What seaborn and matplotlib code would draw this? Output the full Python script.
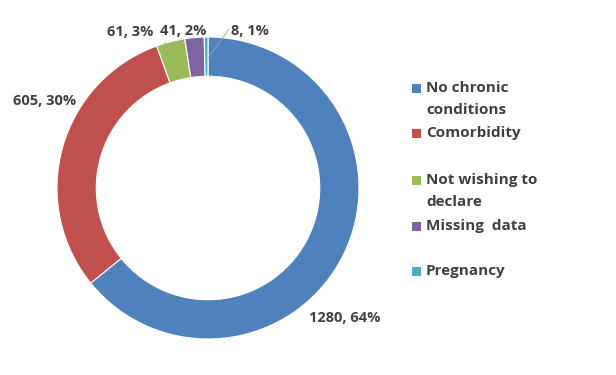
import matplotlib.pyplot as plt
import seaborn as sns
from matplotlib.patches import Rectangle

categories = ["No chronic\nconditions", "Comorbidity", "Not wishing to\ndeclare",
              "Missing  data", "Pregnancy"]
counts = [1280, 605, 61, 41, 8]
percents = [64, 30, 3, 2, 1]
colors = ["#4F81BD", "#C0504D", "#9BBB59", "#8064A2", "#4BACC6"]

sns.set_theme(style="white")
plt.rcParams["font.family"] = ["Open Sans", "DejaVu Sans"]
text_color = "#404040"

fig = plt.figure(figsize=(6.16, 3.75), dpi=100)
ax = fig.add_axes([208 / 616 - 151 / 616, 1 - (188 + 151) / 375, 302 / 616, 302 / 375])

wedges, _ = ax.pie(counts, colors=sns.color_palette(colors), startangle=90,
                   counterclock=False, radius=1.0,
                   wedgeprops=dict(width=0.26, edgecolor="white", linewidth=0.8))
ax.set_aspect("equal")
ax.set_xlim(-1, 1)
ax.set_ylim(-1, 1)

# data labels (pixel positions of label centres)
label_pos = [(345, 318), (45, 101), (130, 32), (183, 31), (250, 31)]
for (px, py), c, p in zip(label_pos, counts, percents):
    fig.text(px / 616, 1 - py / 375, f"{c}, {p}%", ha="center", va="center",
             fontsize=10.5, fontweight="bold", color=text_color)

# leader lines
fig.add_artist(plt.Line2D([208 / 616, 229 / 616], [1 - 58 / 375, 1 - 29 / 375],
                          color="#A6A6A6", linewidth=0.6))
fig.add_artist(plt.Line2D([166 / 616, 165 / 616], [1 - 58 / 375, 1 - 42 / 375],
                          color="#A6A6A6", linewidth=0.6))

# legend, placed by hand to follow the original spacing
legend_y = [88, 133, 180, 226, 271]
for y, lab, col in zip(legend_y, categories, colors):
    fig.add_artist(Rectangle((412 / 616, 1 - (y + 4.5) / 375), 9 / 616, 9 / 375,
                             facecolor=col, edgecolor="none",
                             transform=fig.transFigure))
    fig.text(426 / 616, 1 - (y - 7) / 375, lab, ha="left", va="top",
             fontsize=11, fontweight="bold", color=text_color, linespacing=1.7)

fig.savefig("out.png", dpi=100)
